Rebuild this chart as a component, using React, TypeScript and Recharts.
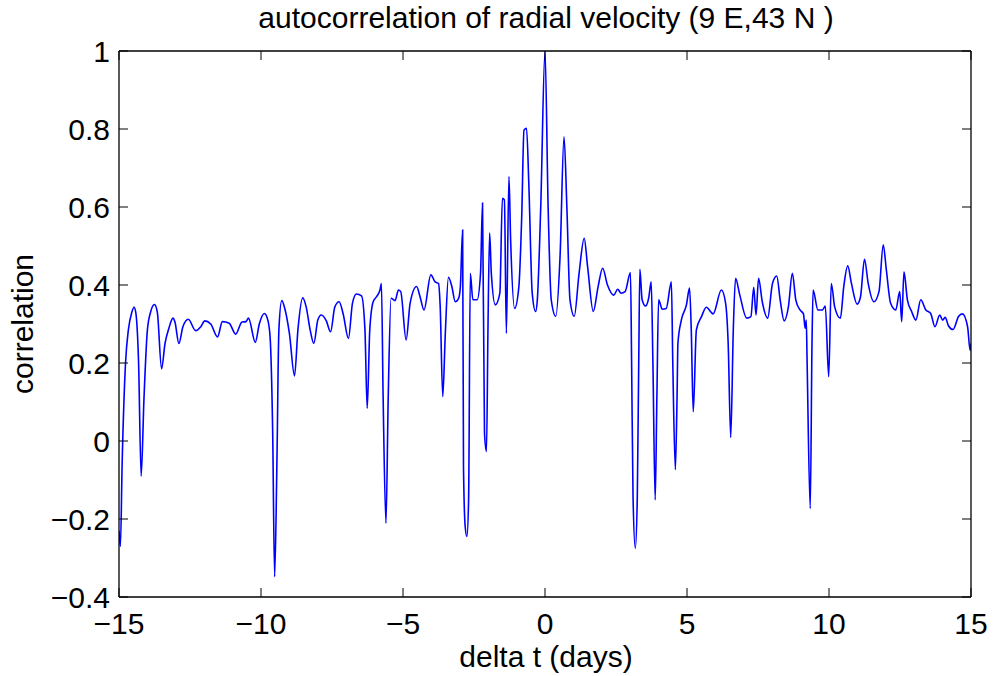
import React from "react";
import { LineChart, Line, XAxis, YAxis } from "recharts";

const lags: number[] = [
  -15.0, -14.95, -14.89, -14.77, -14.67, -14.55, -14.47, -14.41, -14.31, -14.22,
  -14.12, -14.0, -13.89, -13.75, -13.65, -13.5, -13.38, -13.24, -13.1, -13.03,
  -12.89, -12.75, -12.56, -12.3, -12.12, -11.98, -11.77, -11.53, -11.36, -11.12,
  -10.89, -10.67, -10.53, -10.44, -10.2, -10.06, -9.88, -9.76, -9.68, -9.59,
  -9.52, -9.44, -9.37, -9.27, -9.15, -9.0, -8.82, -8.7, -8.53, -8.41,
  -8.27, -8.14, -8.0, -7.88, -7.7, -7.55, -7.4, -7.25, -7.11, -6.92,
  -6.78, -6.64, -6.46, -6.34, -6.26, -6.17, -6.05, -5.93, -5.81, -5.76,
  -5.7, -5.6, -5.52, -5.42, -5.28, -5.16, -5.08, -4.89, -4.75, -4.52,
  -4.4, -4.26, -4.02, -3.87, -3.75, -3.69, -3.6, -3.51, -3.4, -3.28,
  -3.16, -3.04, -2.98, -2.9, -2.87, -2.81, -2.75, -2.69, -2.63, -2.54,
  -2.39, -2.27, -2.2, -2.13, -2.06, -2.01, -1.95, -1.89, -1.75, -1.59,
  -1.5, -1.43, -1.36, -1.27, -1.21, -1.07, -0.92, -0.82, -0.74, -0.65,
  -0.57, -0.45, -0.33, -0.27, -0.15, 0.0, 0.11, 0.22, 0.38, 0.53,
  0.67, 0.77, 0.88, 1.03, 1.2, 1.38, 1.5, 1.7, 1.87, 2.03,
  2.2, 2.42, 2.56, 2.68, 2.82, 3.01, 3.05, 3.1, 3.18, 3.25,
  3.3, 3.34, 3.42, 3.54, 3.65, 3.74, 3.8, 3.88, 3.94, 4.0,
  4.13, 4.27, 4.45, 4.5, 4.59, 4.65, 4.68, 4.8, 4.98, 5.09,
  5.15, 5.22, 5.33, 5.51, 5.68, 5.92, 6.21, 6.36, 6.45, 6.54,
  6.63, 6.71, 6.86, 7.1, 7.25, 7.35, 7.43, 7.52, 7.65, 7.84,
  8.01, 8.16, 8.28, 8.42, 8.57, 8.71, 8.83, 8.98, 9.1, 9.16,
  9.2, 9.23, 9.34, 9.4, 9.44, 9.61, 9.77, 9.87, 9.99, 10.08,
  10.2, 10.4, 10.52, 10.66, 10.79, 10.99, 11.11, 11.25, 11.38, 11.58,
  11.76, 11.91, 12.02, 12.17, 12.35, 12.49, 12.56, 12.64, 12.76, 12.91,
  13.06, 13.23, 13.41, 13.58, 13.73, 13.9, 14.0, 14.09, 14.21, 14.37,
  14.56, 14.7, 14.88, 14.97, 15.0,
];

const correlation: number[] = [
  -0.23, -0.27, -0.06, 0.2, 0.285, 0.33, 0.343, 0.33, 0.2, -0.09,
  0.11, 0.285, 0.33, 0.35, 0.33, 0.185, 0.25, 0.29, 0.315, 0.305,
  0.25, 0.293, 0.312, 0.283, 0.293, 0.308, 0.3, 0.267, 0.306, 0.302,
  0.274, 0.305, 0.306, 0.315, 0.253, 0.3, 0.327, 0.31, 0.267, 0.028,
  -0.348, -0.057, 0.285, 0.36, 0.336, 0.276, 0.167, 0.285, 0.367, 0.344,
  0.285, 0.25, 0.31, 0.323, 0.308, 0.28, 0.344, 0.357, 0.327, 0.263,
  0.353, 0.377, 0.372, 0.285, 0.084, 0.285, 0.357, 0.37, 0.387, 0.404,
  0.114, -0.211, 0.114, 0.366, 0.36, 0.387, 0.383, 0.259, 0.353, 0.396,
  0.37, 0.336, 0.426, 0.408, 0.404, 0.344, 0.114, 0.276, 0.42, 0.396,
  0.357, 0.366, 0.396, 0.541, -0.066, -0.22, -0.245, -0.151, 0.43, 0.362,
  0.362, 0.43, 0.61, 0.02, -0.027, 0.276, 0.533, 0.43, 0.349, 0.379,
  0.622, 0.618, 0.276, 0.678, 0.515, 0.34, 0.396, 0.575, 0.797, 0.802,
  0.66, 0.379, 0.332, 0.362, 0.6, 1.0, 0.6, 0.362, 0.32, 0.473,
  0.78, 0.6, 0.362, 0.32, 0.43, 0.52, 0.447, 0.332, 0.396, 0.443,
  0.4, 0.374, 0.389, 0.379, 0.383, 0.432, 0.2, -0.143, -0.275, -0.143,
  0.199, 0.44, 0.362, 0.346, 0.366, 0.408, 0.199, -0.151, 0.114, 0.362,
  0.338, 0.34, 0.408, 0.199, -0.073, 0.114, 0.25, 0.31, 0.349, 0.392,
  0.285, 0.075, 0.285, 0.319, 0.343, 0.326, 0.387, 0.353, 0.25, 0.009,
  0.285, 0.417, 0.374, 0.315, 0.319, 0.394, 0.323, 0.417, 0.357, 0.315,
  0.404, 0.423, 0.362, 0.308, 0.344, 0.43, 0.362, 0.336, 0.326, 0.289,
  0.31, 0.199, -0.173, 0.242, 0.387, 0.336, 0.336, 0.346, 0.165, 0.404,
  0.344, 0.315, 0.396, 0.449, 0.404, 0.351, 0.37, 0.466, 0.404, 0.357,
  0.383, 0.503, 0.438, 0.353, 0.336, 0.383, 0.306, 0.434, 0.362, 0.332,
  0.31, 0.362, 0.336, 0.327, 0.293, 0.323, 0.31, 0.317, 0.295, 0.286,
  0.319, 0.326, 0.293, 0.232, 0.25,
];

const xTicks: number[] = [-15, -10, -5, 0, 5, 10, 15];
const yTicks: number[] = [-0.4, -0.2, 0, 0.2, 0.4, 0.6, 0.8, 1];

const title = "autocorrelation of radial velocity (9 E,43 N )";
const xLabel = "delta t (days)";
const yLabel = "correlation";

const data = lags.map((t, i) => ({ t, c: correlation[i] }));

const FONT = "'Liberation Sans', Arial, Helvetica, sans-serif";
const FS = 30;
const TICK = 9;

const fmt = (v: number) => {
  const r = Math.round(v * 10) / 10;
  const s = String(Math.abs(r));
  return r < 0 ? "\u2212" + s : s;
};

const BottomTick = (props: any) => {
  const { x, y, payload } = props;
  return (
    <g>
      <line x1={x} x2={x} y1={y} y2={y - TICK} stroke="#000" strokeWidth={1} />
      <text x={x} y={y + 37} textAnchor="middle" fontSize={FS} fontFamily={FONT} fill="#000">
        {fmt(payload.value)}
      </text>
    </g>
  );
};

const TopTick = (props: any) => {
  const { x, y } = props;
  return <line x1={x} x2={x} y1={y} y2={y + TICK} stroke="#000" strokeWidth={1} />;
};

const LeftTick = (props: any) => {
  const { x, y, payload } = props;
  return (
    <g>
      <line x1={x} x2={x + TICK} y1={y} y2={y} stroke="#000" strokeWidth={1} />
      <text x={x - 9} y={y} dy="0.36em" textAnchor="end" fontSize={FS} fontFamily={FONT} fill="#000">
        {fmt(payload.value)}
      </text>
    </g>
  );
};

const RightTick = (props: any) => {
  const { x, y } = props;
  return <line x1={x} x2={x - TICK} y1={y} y2={y} stroke="#000" strokeWidth={1} />;
};

export default function App() {
  return (
    <div style={{ position: "absolute", left: 0, top: 0, width: 999, height: 676, background: "#fff" }}>
      <LineChart
        width={999}
        height={676}
        data={data}
        margin={{ top: 50, right: 27, bottom: 78, left: 118 }}
      >
        <XAxis
          dataKey="t"
          type="number"
          domain={[-15, 15]}
          ticks={xTicks}
          allowDataOverflow
          height={1}
          tickSize={0}
          tickMargin={0}
          tickLine={false}
          tick={(p: any) => <BottomTick {...p} />}
          axisLine={{ stroke: "#000", strokeWidth: 1.3 }}
          interval={0}
        />
        <XAxis
          xAxisId="top"
          orientation="top"
          dataKey="t"
          type="number"
          domain={[-15, 15]}
          ticks={xTicks}
          allowDataOverflow
          height={1}
          tickSize={0}
          tickMargin={0}
          tickLine={false}
          tick={(p: any) => <TopTick {...p} />}
          axisLine={{ stroke: "#000", strokeWidth: 1.3 }}
          interval={0}
        />
        <YAxis
          type="number"
          domain={[-0.4, 1]}
          ticks={yTicks}
          allowDataOverflow
          width={1}
          tickSize={0}
          tickMargin={0}
          tickLine={false}
          tick={(p: any) => <LeftTick {...p} />}
          axisLine={{ stroke: "#000", strokeWidth: 1.3 }}
          interval={0}
        />
        <YAxis
          yAxisId="right"
          orientation="right"
          type="number"
          domain={[-0.4, 1]}
          ticks={yTicks}
          allowDataOverflow
          width={1}
          tickSize={0}
          tickMargin={0}
          tickLine={false}
          tick={(p: any) => <RightTick {...p} />}
          axisLine={{ stroke: "#000", strokeWidth: 1.3 }}
          interval={0}
        />
        <Line
          dataKey="c"
          type="monotone"
          stroke="#0000ff"
          strokeWidth={1.6}
          dot={false}
          activeDot={false}
          isAnimationActive={false}
        />
      </LineChart>
      <svg
        width={999}
        height={676}
        style={{ position: "absolute", left: 0, top: 0, pointerEvents: "none" }}
      >
        <text x={546} y={28} textAnchor="middle" fontSize={FS} fontFamily={FONT} fill="#000">
          {title}
        </text>
        <text x={546} y={667} textAnchor="middle" fontSize={FS} fontFamily={FONT} fill="#000">
          {xLabel}
        </text>
        <text
          x={33}
          y={324}
          textAnchor="middle"
          fontSize={FS}
          fontFamily={FONT}
          fill="#000"
          transform="rotate(-90 33 324)"
        >
          {yLabel}
        </text>
      </svg>
    </div>
  );
}
